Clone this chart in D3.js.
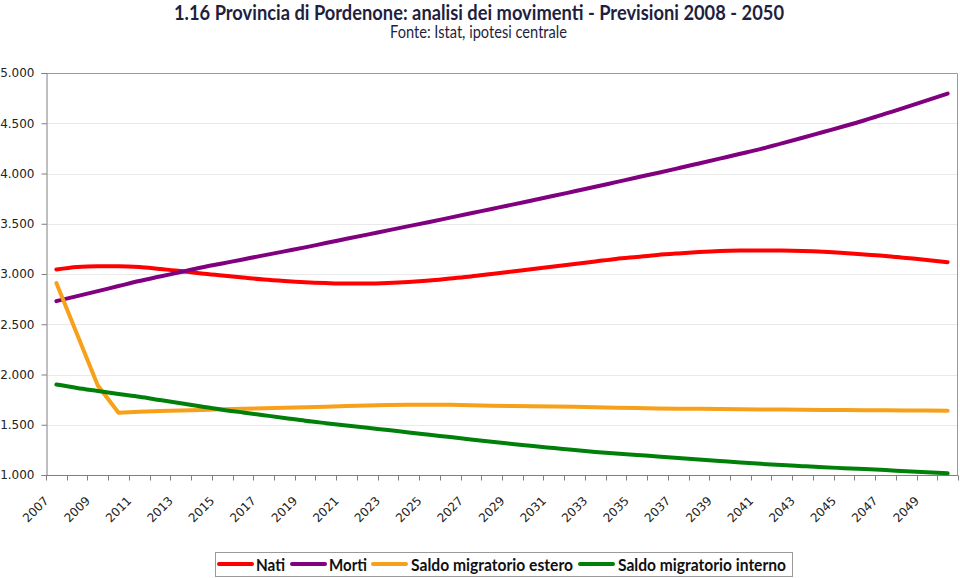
<!DOCTYPE html>
<html>
<head>
<meta charset="utf-8">
<script src="https://cdn.jsdelivr.net/npm/d3@7"></script>
<style>
  html, body { margin: 0; padding: 0; background: #fff; }
  svg { display: block; }
</style>
</head>
<body>
<svg id="chart" width="960" height="578"></svg>
<script>
const years = d3.range(2007, 2051);
const tickLabels = d3.range(2007, 2050, 2).map(String);
const yTicks = [1000, 1500, 2000, 2500, 3000, 3500, 4000, 4500, 5000];

const nati = [3045, 3070, 3078, 3078, 3070, 3050, 3030, 3005, 2985, 2965,
  2945, 2930, 2918, 2910, 2905, 2905, 2910, 2920, 2935, 2955,
  2975, 3000, 3025, 3050, 3075, 3100, 3125, 3150, 3170, 3190,
  3205, 3218, 3228, 3233, 3235, 3234, 3230, 3222, 3210, 3195,
  3180, 3160, 3140, 3118];
const morti = [2730, 2780, 2830, 2880, 2930, 2975, 3020, 3065, 3105, 3145,
  3185, 3225, 3265, 3308, 3350, 3392, 3434, 3476, 3518, 3561,
  3604, 3647, 3690, 3734, 3778, 3823, 3868, 3914, 3960, 4005,
  4052, 4100, 4148, 4196, 4245, 4300, 4356, 4413, 4470, 4530,
  4595, 4660, 4727, 4795];
const estero = [2910, 2400, 1890, 1620, 1630, 1636, 1642, 1648, 1654, 1659,
  1664, 1669, 1674, 1680, 1686, 1692, 1697, 1699, 1700, 1698,
  1694, 1690, 1687, 1684, 1681, 1678, 1674, 1670, 1666, 1662,
  1660, 1658, 1656, 1654, 1652, 1651, 1650, 1648, 1647, 1645,
  1644, 1643, 1641, 1640];
const interno = [1900, 1865, 1835, 1805, 1778, 1746, 1714, 1682, 1650, 1622,
  1595, 1568, 1540, 1516, 1493, 1470, 1447, 1424, 1400, 1377,
  1353, 1330, 1309, 1288, 1268, 1248, 1230, 1214, 1199, 1185,
  1170, 1155, 1140, 1125, 1111, 1099, 1088, 1077, 1068, 1059,
  1049, 1038, 1028, 1017];

const seriesNames = ["Nati", "Morti", "Saldo migratorio estero", "Saldo migratorio interno"];
const seriesColors = ["#ff0000", "#800080", "#f7a11a", "#00800a"];
const seriesValues = [nati, morti, estero, interno];

const svg = d3.select("#chart");
const plotL = 46, plotR = 958, plotT = 73, plotB = 475;

const x = d3.scaleBand().domain(years).range([plotL, plotR]).padding(0);
const y = d3.scaleLinear().domain([1000, 5000]).range([plotB, plotT]);
const locale = d3.formatLocale({decimal: ",", thousands: ".", grouping: [3], currency: ["", ""]});
const fmt = locale.format(",.0f");

// Title
svg.append("text")
  .attr("x", 479).attr("y", 19.5)
  .attr("text-anchor", "middle")
  .attr("font-family", "Lato, 'Open Sans', sans-serif")
  .attr("font-weight", "bold")
  .attr("font-size", 21)
  .attr("fill", "#1f1f3f")
  .attr("textLength", 610).attr("lengthAdjust", "spacingAndGlyphs")
  .text("1.16 Provincia di Pordenone: analisi dei movimenti - Previsioni 2008 - 2050");
svg.append("text")
  .attr("x", 478.5).attr("y", 38)
  .attr("text-anchor", "middle")
  .attr("font-family", "Lato, 'Open Sans', sans-serif")
  .attr("font-size", 16.5)
  .attr("fill", "#1f1f3f")
  .attr("textLength", 177).attr("lengthAdjust", "spacingAndGlyphs")
  .text("Fonte: Istat, ipotesi centrale");

// Gridlines
svg.append("g").selectAll("line")
  .data(yTicks.filter(d => d > 1000 && d < 5000))
  .join("line")
  .attr("x1", plotL).attr("x2", plotR)
  .attr("y1", d => Math.round(y(d)) + 0.5).attr("y2", d => Math.round(y(d)) + 0.5)
  .attr("stroke", "#e9e9e9").attr("stroke-width", 1);

// Plot border (top and right)
svg.append("path")
  .attr("d", `M${plotL},${plotT + 0.5}H${plotR - 0.5}V${plotB}`)
  .attr("fill", "none").attr("stroke", "#9a9a9a").attr("stroke-width", 1);

// Y axis
const yAxis = d3.axisLeft(y).tickValues(yTicks).tickFormat(fmt).tickSize(5).tickPadding(7);
const gy = svg.append("g").attr("transform", `translate(${plotL + 0.5},0)`).call(yAxis);
gy.select(".domain").attr("stroke", "#7f7f7f");
gy.selectAll(".tick line").attr("stroke", "#7f7f7f");
gy.selectAll(".tick text")
  .attr("font-family", "'DejaVu Sans', Verdana, sans-serif")
  .attr("font-size", 12).attr("fill", "#222");

// X axis: ticks at category boundaries
const gx = svg.append("g").attr("transform", `translate(0,${plotB + 0.5})`);
gx.append("line").attr("x1", plotL).attr("x2", plotR).attr("stroke", "#7f7f7f");
const boundaries = years.map(d => x(d)).concat([plotR]);
gx.selectAll("line.tk").data(boundaries).join("line")
  .attr("class", "tk")
  .attr("x1", d => Math.round(d) + 0.5).attr("x2", d => Math.round(d) + 0.5)
  .attr("y1", 0).attr("y2", 5)
  .attr("stroke", "#7f7f7f");
gx.selectAll("text").data(tickLabels).join("text")
  .attr("transform", d => `translate(${x(+d) + x.bandwidth() / 2 - 7},${26}) rotate(-45)`)
  .attr("text-anchor", "end")
  .attr("font-family", "'DejaVu Sans', Verdana, sans-serif")
  .attr("font-size", 12).attr("fill", "#222")
  .text(d => d);

// Lines
const lineSmooth = d3.line()
  .x((d, i) => x(years[i]) + x.bandwidth() / 2)
  .y(d => y(d))
  .curve(d3.curveMonotoneX);
const lineStraight = d3.line()
  .x((d, i) => x(years[i]) + x.bandwidth() / 2)
  .y(d => y(d))
  .curve(d3.curveLinear);

svg.append("g").selectAll("path")
  .data(seriesValues.map((v, i) => ({v, c: seriesColors[i], name: seriesNames[i]})))
  .join("path")
  .attr("d", d => d.name === "Saldo migratorio estero" ? lineStraight(d.v) : lineSmooth(d.v))
  .attr("fill", "none")
  .attr("stroke", d => d.c)
  .attr("stroke-width", 4)
  .attr("stroke-linecap", "round")
  .attr("stroke-linejoin", "round");

// Legend
const legX = [219, 292, 373, 580];
const legTextX = [256, 329, 411, 618];
const legTextW = [29, 38, 162, 168];
const leg = svg.append("g");
leg.append("rect")
  .attr("x", 215.5).attr("y", 552.5).attr("width", 577).attr("height", 24)
  .attr("fill", "#fff").attr("stroke", "#9a9a9a");
seriesNames.forEach((n, i) => {
  leg.append("line")
    .attr("x1", legX[i]).attr("x2", legX[i] + 33)
    .attr("y1", 564).attr("y2", 564)
    .attr("stroke", seriesColors[i]).attr("stroke-width", 4)
    .attr("stroke-linecap", "round");
  leg.append("text")
    .attr("x", legTextX[i]).attr("y", 570.5)
    .attr("font-family", "Lato, 'Open Sans', sans-serif")
    .attr("font-weight", "bold")
    .attr("font-size", 17)
    .attr("fill", "#111")
    .attr("textLength", legTextW[i]).attr("lengthAdjust", "spacingAndGlyphs")
    .text(n);
});
</script>
</body>
</html>
